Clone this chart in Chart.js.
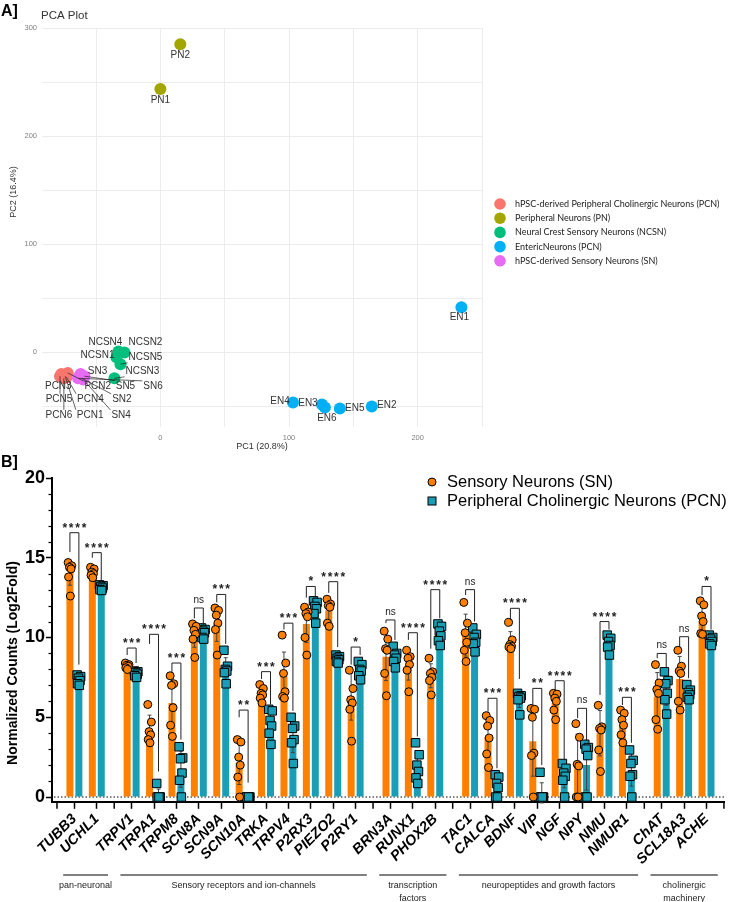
<!DOCTYPE html>
<html>
<head>
<meta charset="utf-8">
<script src="https://cdn.jsdelivr.net/npm/chart.js@4.4.1/dist/chart.umd.min.js"></script>
<style>
  html, body { margin: 0; padding: 0; background: #fff; }
  #wrap { position: relative; width: 731px; height: 902px; overflow: hidden; }
  canvas { position: absolute; left: 0; }
  #pca { top: 0; width: 731px; height: 460px; }
  #bars { top: 455px; width: 731px; height: 447px; }
</style>
</head>
<body>
<div id="wrap">
  <canvas id="pca" width="731" height="460"></canvas>
  <canvas id="bars" width="731" height="447"></canvas>
</div>
<script>
const SANS = '"Liberation Sans", Arial, sans-serif';

// ---------- Panel A : PCA ----------
const pcaGroups = [
  'hPSC-derived Peripheral Cholinergic Neurons (PCN)',
  'Peripheral Neurons (PN)',
  'Neural Crest Sensory Neurons (NCSN)',
  'EntericNeurons (PCN)',
  'hPSC-derived Sensory Neurons (SN)'
];
const pcaColors = ['#F8766D', '#A3A500', '#00BF7D', '#00B0F6', '#E76BF3'];

const pcnNames = ['PCN1', 'PCN2', 'PCN3', 'PCN4', 'PCN5', 'PCN6'];
const pcnPC1 = [-74, -72, -77, -73, -78, -75];
const pcnPC2 = [-22, -19, -20, -23, -22, -24];

const pnNames = ['PN1', 'PN2'];
const pnPC1 = [0, 15.5];
const pnPC2 = [243.5, 285];

const ncsnNames = ['NCSN1', 'NCSN2', 'NCSN3', 'NCSN4', 'NCSN5'];
const ncsnPC1 = [-34.1, -27.9, -35.7, -32.6, -31];
const ncsnPC2 = [-4.6, 0, -24, 0.9, -11];

const enNames = ['EN1', 'EN2', 'EN3', 'EN4', 'EN5', 'EN6'];
const enPC1 = [234, 164.3, 125.6, 103.1, 139.5, 127.9];
const enPC2 = [41.7, -50, -48.1, -46.3, -51.9, -50.9];

const snNames = ['SN1', 'SN2', 'SN3', 'SN4', 'SN5', 'SN6'];
const snPC1 = [-63, -61, -62, -60, -59, -64];
const snPC2 = [-22, -24, -20, -25, -22, -24];

const pcaSets = [
  { names: pcnNames, x: pcnPC1, y: pcnPC2 },
  { names: pnNames, x: pnPC1, y: pnPC2 },
  { names: ncsnNames, x: ncsnPC1, y: ncsnPC2 },
  { names: enNames, x: enPC1, y: enPC2 },
  { names: snNames, x: snPC1, y: snPC2 }
];

// where the repelled labels sit, in pixels from their point
const labelNudge = {
  PN1: [0, 11], PN2: [0, 11], EN1: [-2, 10], EN2: [15, -1], EN3: [-14, -1],
  EN4: [-13, -1], EN5: [15, 0], EN6: [2, 11],
  NCSN4: [-13, -9], NCSN2: [21, -10], NCSN1: [-19, -2], NCSN5: [25, -7], NCSN3: [28, -7],
  SN3: [17, -3], PCN2: [30, 13.5], SN5: [41, 10], SN6: [75, 8], PCN3: [-3, 12],
  PCN5: [-1, 23], PCN4: [24, 22], SN2: [40, 21], PCN6: [-5, 37], PCN1: [25, 39], SN4: [38, 36]
};

const pcaDecor = {
  id: 'pcaDecor',
  afterDatasetsDraw(chart) {
    const ctx = chart.ctx, xs = chart.scales.x, ys = chart.scales.y;
    ctx.save();
    ctx.font = '10px ' + SANS;
    ctx.textAlign = 'center';
    ctx.textBaseline = 'middle';
    const items = [];
    pcaSets.forEach(set => set.names.forEach((nm, i) => {
      const off = labelNudge[nm];
      if (!off) return;
      const px = xs.getPixelForValue(set.x[i]), py = ys.getPixelForValue(set.y[i]);
      items.push({ nm, px, py, lx: px + off[0], ly: py + off[1] });
    }));
    ctx.strokeStyle = '#222';
    ctx.lineWidth = 0.7;
    items.forEach(it => {
      const w = ctx.measureText(it.nm).width / 2 + 1, h = 5.5;
      const bx = Math.max(it.lx - w, Math.min(it.px, it.lx + w));
      const by = Math.max(it.ly - h, Math.min(it.py, it.ly + h));
      if (Math.hypot(bx - it.px, by - it.py) > 7) {
        ctx.beginPath();
        ctx.moveTo(it.px, it.py);
        ctx.lineTo(bx, by);
        ctx.stroke();
      }
    });
    ctx.fillStyle = '#333';
    items.forEach(it => ctx.fillText(it.nm, it.lx, it.ly));
    ctx.restore();
  },
  afterDraw(chart) {
    const ctx = chart.ctx, area = chart.chartArea;
    ctx.save();
    ctx.fillStyle = '#000';
    ctx.textBaseline = 'middle';
    ctx.font = 'bold 16px ' + SANS;
    ctx.fillText('A]', 1, 12);
    ctx.fillStyle = '#333';
    ctx.font = '11.5px ' + SANS;
    ctx.fillText('PCA Plot', 41, 16);
    ctx.font = '9px ' + SANS;
    ctx.textAlign = 'center';
    ctx.fillText('PC1 (20.8%)', (area.left + area.right) / 2, 447);
    ctx.save();
    ctx.translate(14, 192);
    ctx.rotate(-Math.PI / 2);
    ctx.fillText('PC2 (16.4%)', 0, 0);
    ctx.restore();
    // legend
    ctx.textAlign = 'left';
    ctx.font = '9px Lato, "Open Sans", sans-serif';
    pcaGroups.forEach((g, k) => {
      const y = 204 + k * 14.2;
      ctx.fillStyle = pcaColors[k];
      ctx.beginPath();
      ctx.arc(500, y, 5.8, 0, Math.PI * 2);
      ctx.fill();
      ctx.fillStyle = '#222';
      ctx.fillText(g, 515, y);
    });
    ctx.restore();
  }
};

new Chart(document.getElementById('pca'), {
  type: 'scatter',
  data: {
    datasets: pcaSets.map((s, k) => ({
      label: pcaGroups[k],
      data: s.x.map((v, i) => ({ x: v, y: s.y[i] })),
      backgroundColor: pcaColors[k],
      pointRadius: 6,
      pointHoverRadius: 6,
      pointBorderWidth: 0,
      order: 4 - k
    }))
  },
  options: {
    responsive: false,
    animation: false,
    layout: { padding: { left: 0, top: 28, right: 249, bottom: 0 } },
    plugins: { legend: { display: false }, tooltip: { enabled: false } },
    scales: {
      x: {
        type: 'linear', min: -92, max: 250,
        ticks: {
          stepSize: 50, includeBounds: false, maxRotation: 0, padding: 6,
          color: '#7f7f7f', font: { family: SANS, size: 7.5 },
          callback: v => (v % 100 === 0 ? v : '')
        },
        grid: { color: '#ececec', drawTicks: false },
        border: { display: false },
        afterFit: s => { s.height = 33; }
      },
      y: {
        type: 'linear', min: -69, max: 300,
        ticks: {
          stepSize: 50, includeBounds: false, padding: 5,
          color: '#7f7f7f', font: { family: SANS, size: 7.5 },
          callback: v => (v % 100 === 0 ? v : '')
        },
        grid: { color: '#ececec', drawTicks: false },
        border: { display: false },
        afterFit: s => { s.width = 42; }
      }
    }
  },
  plugins: [pcaDecor]
});

// ---------- Panel B : normalized counts ----------
const genes = ['TUBB3', 'UCHL1', 'TRPV1', 'TRPA1', 'TRPM8', 'SCN8A', 'SCN9A', 'SCN10A', 'TRKA',
  'TRPV4', 'P2RX3', 'PIEZO2', 'P2RY1', 'BRN3A', 'RUNX1', 'PHOX2B', 'TAC1', 'CALCA', 'BDNF',
  'VIP', 'NGF', 'NPY', 'NMU', 'NMUR1', 'ChAT', 'SCL18A3', 'ACHE'];
const geneGroup = [0, 0, 1, 1, 1, 1, 1, 1, 1, 1, 1, 1, 1, 2, 2, 2, 3, 3, 3, 3, 3, 3, 3, 3, 4, 4, 4];
const groupLabels = [['pan-neuronal'], ['Sensory receptors and ion-channels'],
  ['transcription', 'factors'], ['neuropeptides and growth factors'], ['cholinergic', 'machinery']];

const seriesNames = ['Sensory Neurons (SN)', 'Peripheral Cholinergic Neurons (PCN)'];
const snMean = [14.05, 14.05, 8.2, 4.25, 5.9, 10.15, 10.85, 2.15, 6.45, 7.55, 10.85, 11.7, 6.3,
  8.8, 8.25, 7.6, 10.15, 3.75, 9.75, 3.5, 5.9, 2.05, 4.0, 4.55, 6.3, 7.4, 11.0];
const pcnMean = [7.35, 13.1, 7.7, 0.15, 1.75, 10.3, 8.05, 0, 4.6, 3.8, 11.8, 8.65, 7.95,
  8.8, 1.95, 10.2, 9.85, 0.7, 6.1, 0.26, 1.3, 2.0, 9.6, 1.7, 6.7, 6.5, 9.8];

const snReps = [
  [14.7, 14.5, 14.4, 14.3, 13.8, 12.6], [14.4, 14.3, 14.1, 14.0, 13.9, 13.75],
  [8.4, 8.3, 8.25, 8.2, 8.1, 8.0], [5.8, 4.7, 4.1, 3.9, 3.6, 3.4],
  [7.6, 7.1, 7.0, 5.6, 4.5, 3.8], [10.85, 10.7, 10.45, 10.2, 9.9, 8.75],
  [11.85, 11.7, 11.4, 10.9, 10.5, 8.9], [3.6, 3.45, 2.5, 2.0, 1.25, 0],
  [7.05, 6.8, 6.5, 6.4, 6.2, 5.9], [10.15, 8.4, 7.75, 6.6, 6.3, 6.2],
  [11.9, 11.6, 11.5, 11.3, 10.0, 8.9], [12.4, 12.1, 12.0, 11.9, 10.9, 10.7],
  [7.95, 6.8, 6.1, 5.9, 5.5, 3.5], [10.4, 9.9, 9.3, 9.2, 7.75, 6.35],
  [9.2, 8.8, 8.7, 8.3, 7.95, 6.6], [8.7, 7.85, 7.75, 7.5, 7.3, 6.4],
  [12.2, 10.9, 10.3, 9.7, 9.2, 8.5], [5.1, 4.8, 4.45, 3.7, 2.7, 1.85],
  [10.95, 9.85, 9.55, 9.45, 9.4, 9.3], [5.55, 5.5, 5.0, 2.75, 2.6, 0],
  [6.5, 6.45, 6.2, 6.0, 5.45, 4.85], [4.6, 3.75, 2.05, 1.95, 0, 0],
  [5.75, 4.4, 4.3, 4.2, 2.95, 1.6], [5.45, 5.25, 4.85, 4.5, 3.9, 3.4],
  [8.3, 7.15, 6.75, 6.5, 4.85, 4.25], [9.2, 8.2, 7.9, 7.75, 6.0, 5.45],
  [12.3, 12.05, 11.35, 11.0, 10.25, 10.2]
];
const pcnReps = [
  [7.65, 7.55, 7.45, 7.3, 7.1, 7.0], [13.3, 13.25, 13.2, 13.1, 13.0, 12.95],
  [7.9, 7.85, 7.8, 7.7, 7.6, 7.5], [0.85, 0, 0, 0, 0, 0],
  [3.15, 2.45, 2.4, 1.5, 1.05, 0], [10.6, 10.5, 10.4, 10.3, 10.0, 9.9],
  [9.2, 8.2, 8.0, 7.9, 7.8, 7.1], [0, 0, 0, 0, 0, 0],
  [5.5, 5.4, 4.8, 4.45, 4.0, 3.3], [5.0, 4.45, 4.3, 3.6, 3.4, 2.1],
  [12.3, 12.2, 11.95, 11.8, 11.5, 10.9], [8.9, 8.8, 8.7, 8.6, 8.5, 8.4],
  [8.5, 8.3, 8.0, 7.9, 7.6, 7.35], [9.45, 9.0, 8.9, 8.7, 8.5, 8.1],
  [3.4, 2.65, 2.0, 1.6, 1.2, 0.85], [10.85, 10.7, 10.4, 10.1, 9.8, 9.5],
  [10.6, 10.2, 10.0, 9.7, 9.6, 9.1], [1.4, 1.25, 0.85, 0.6, 0, 0],
  [6.5, 6.35, 6.3, 6.2, 6.1, 5.15], [1.55, 0, 0, 0, 0, 0],
  [2.1, 1.8, 1.5, 1.3, 1.05, 0], [3.3, 3.1, 3.0, 2.6, 0, 0],
  [10.15, 9.95, 9.75, 9.5, 9.4, 8.9], [2.95, 2.3, 2.1, 1.4, 1.3, 0],
  [7.85, 7.3, 7.1, 6.5, 6.1, 5.2], [7.05, 6.7, 6.55, 6.4, 6.25, 6.1],
  [10.15, 10.0, 9.9, 9.75, 9.6, 9.5]
];

// significance: label, bracket top, end of SN leg, end of PCN leg
const sigLabel = ['****', '****', '***', '****', '***', 'ns', '***', '**', '***', '***', '*', '****', '*',
  'ns', '****', '****', 'ns', '***', '****', '**', '****', 'ns', '****', '***', 'ns', 'ns', '*'];
const sigTop = [16.57, 15.32, 9.34, 10.2, 8.4, 11.85, 12.7, 5.45, 7.86, 10.9, 13.2, 13.5, 9.4,
  11.1, 10.3, 13.0, 13.0, 6.19, 11.83, 6.81, 7.29, 5.56, 11.0, 6.25, 9.0, 10.05, 13.2];
const sigLegSN = [15.36, 15.0, 8.9, 9.6, 7.8, 11.2, 12.2, 5.0, 7.4, 10.5, 12.5, 12.8, 8.3,
  10.9, 9.85, 9.3, 12.66, 5.35, 11.1, 5.77, 6.7, 4.95, 6.4, 5.77, 8.7, 9.4, 12.65];
const sigLegPCN = [8.3, 13.5, 8.4, 1.6, 3.6, 10.65, 9.6, 0.9, 5.8, 5.4, 12.5, 9.4, 8.9,
  9.84, 3.8, 11.2, 11.0, 1.8, 7.4, 2.0, 2.3, 3.57, 10.5, 3.4, 8.15, 7.45, 10.5];

const orange = '#FF8000';
const teal = '#1A9EB5';

// x positions: one slot per gene, plus a narrower gap between gene groups
const GAP = 0.555;
const xPos = genes.map((g, i) => i + geneGroup[i] * GAP);
const groupEdges = [];
for (let g = 0; g < groupLabels.length; g++) {
  const idx = genes.map((_, i) => i).filter(i => geneGroup[i] === g);
  groupEdges.push([xPos[idx[0]], xPos[idx[idx.length - 1]]]);
}
const boundaryTicks = [groupEdges[0][0] - (0.5 + GAP / 2)];
for (let g = 0; g < groupEdges.length - 1; g++) boundaryTicks.push((groupEdges[g][1] + groupEdges[g + 1][0]) / 2);
boundaryTicks.push(groupEdges[groupEdges.length - 1][1] + 0.5 + GAP / 2);

const SHIFT = 0.2;  // half the distance between the two bars of a gene
const jitter = [-0.08, 0.08, -0.02, 0.05, -0.06, 0.02];
const repPoints = (reps, side) => reps.flatMap((r, i) =>
  r.map((v, k) => ({ x: xPos[i] + side * SHIFT + jitter[k], y: v })));

const sd = arr => {
  const m = arr.reduce((a, b) => a + b, 0) / arr.length;
  return Math.sqrt(arr.reduce((a, b) => a + (b - m) * (b - m), 0) / (arr.length - 1));
};

const barDecor = {
  id: 'barDecor',
  beforeDatasetsDraw(chart) {
    const ctx = chart.ctx, ys = chart.scales.y, area = chart.chartArea;
    const y0 = ys.getPixelForValue(0);
    ctx.save();
    ctx.strokeStyle = '#000';
    ctx.lineWidth = 1;
    ctx.setLineDash([1.5, 2]);
    ctx.beginPath();
    ctx.moveTo(area.left + 2, y0);
    ctx.lineTo(area.right, y0);
    ctx.stroke();
    ctx.restore();
  },
  afterDatasetDraw(chart, args) {
    if (args.index > 1) return;
    const ctx = chart.ctx, ys = chart.scales.y;
    const means = args.index === 0 ? snMean : pcnMean;
    const reps = args.index === 0 ? snReps : pcnReps;
    ctx.save();
    ctx.strokeStyle = '#444';
    ctx.lineWidth = 1;
    args.meta.data.forEach((bar, i) => {
      const s = sd(reps[i]);
      if (s === 0) return;
      const yt = ys.getPixelForValue(means[i] + s), yb = ys.getPixelForValue(means[i] - s);
      ctx.beginPath();
      ctx.moveTo(bar.x, yt); ctx.lineTo(bar.x, yb);
      ctx.moveTo(bar.x - 2, yt); ctx.lineTo(bar.x + 2, yt);
      ctx.moveTo(bar.x - 2, yb); ctx.lineTo(bar.x + 2, yb);
      ctx.stroke();
    });
    ctx.restore();
  },
  afterDraw(chart) {
    const ctx = chart.ctx, xs = chart.scales.x, ys = chart.scales.y, area = chart.chartArea;
    ctx.save();
    ctx.strokeStyle = '#000';
    // minor y ticks
    ctx.lineWidth = 1.2;
    for (let v = 1; v < 20; v++) {
      if (v % 5 === 0) continue;
      const y = Math.round(ys.getPixelForValue(v)) + 0.5;
      ctx.beginPath(); ctx.moveTo(area.left - 3.5, y); ctx.lineTo(area.left, y); ctx.stroke();
    }
    // ticks at group boundaries
    ctx.lineWidth = 1.5;
    boundaryTicks.forEach(v => {
      const x = xs.getPixelForValue(v);
      ctx.beginPath(); ctx.moveTo(x, area.bottom); ctx.lineTo(x, area.bottom + 7); ctx.stroke();
    });
    // brackets + stars
    ctx.lineWidth = 1;
    ctx.strokeStyle = '#222';
    genes.forEach((g, i) => {
      const xl = xs.getPixelForValue(xPos[i] - SHIFT), xr = xs.getPixelForValue(xPos[i] + SHIFT);
      const yt = ys.getPixelForValue(sigTop[i]);
      ctx.beginPath();
      ctx.moveTo(xl, ys.getPixelForValue(sigLegSN[i]));
      ctx.lineTo(xl, yt);
      ctx.lineTo(xr, yt);
      ctx.lineTo(xr, ys.getPixelForValue(sigLegPCN[i]));
      ctx.stroke();
      const cx = (xl + xr) / 2;
      ctx.fillStyle = '#222';
      ctx.textAlign = 'center';
      ctx.textBaseline = 'alphabetic';
      if (sigLabel[i] === 'ns') {
        ctx.font = '10px ' + SANS;
        ctx.fillText('ns', cx, yt - 5);
      } else {
        ctx.font = 'bold 12px ' + SANS;
        const n = sigLabel[i].length, step = 6.4;
        for (let k = 0; k < n; k++) ctx.fillText('*', cx + (k - (n - 1) / 2) * step, yt - 1);
      }
    });
    // gene labels
    ctx.fillStyle = '#000';
    ctx.font = 'italic bold 14.5px ' + SANS;
    ctx.textAlign = 'right';
    ctx.textBaseline = 'middle';
    genes.forEach((g, i) => {
      const x = xs.getPixelForValue(xPos[i]);
      ctx.save();
      ctx.translate(x, area.bottom + 15);
      ctx.rotate(-Math.PI / 4);
      ctx.fillText(g, 0, 0);
      ctx.restore();
    });
    // group lines and names
    ctx.strokeStyle = '#000';
    ctx.lineWidth = 1;
    ctx.fillStyle = '#222';
    ctx.font = '9px ' + SANS;
    ctx.textAlign = 'center';
    groupEdges.forEach((e, g) => {
      const x1 = xs.getPixelForValue(e[0] - 0.5), x2 = xs.getPixelForValue(e[1] + 0.5);
      ctx.beginPath(); ctx.moveTo(x1, 420); ctx.lineTo(x2, 420); ctx.stroke();
      groupLabels[g].forEach((t, k) => ctx.fillText(t, (x1 + x2) / 2, 431 + k * 13));
    });
    // legend
    ctx.textAlign = 'left';
    ctx.font = '16.5px ' + SANS;
    ctx.fillStyle = '#000';
    ctx.lineWidth = 1;
    ctx.beginPath(); ctx.arc(432, 27, 4, 0, Math.PI * 2);
    ctx.fillStyle = orange; ctx.fill(); ctx.stroke();
    ctx.fillStyle = teal;
    ctx.fillRect(428, 42, 8, 8); ctx.strokeRect(428, 42, 8, 8);
    ctx.fillStyle = '#000';
    ctx.fillText(seriesNames[0], 447, 27);
    ctx.fillText(seriesNames[1], 447, 46);
    // titles
    ctx.font = 'bold 16px ' + SANS;
    ctx.fillText('B]', 1, 8);
    ctx.save();
    ctx.translate(13, 208);
    ctx.rotate(-Math.PI / 2);
    ctx.textAlign = 'center';
    ctx.font = 'bold 14px ' + SANS;
    ctx.fillText('Normalized Counts (Log2Fold)', 0, 0);
    ctx.restore();
    ctx.restore();
  }
};

new Chart(document.getElementById('bars'), {
  type: 'bar',
  data: {
    datasets: [
      {
        type: 'bar', label: seriesNames[0],
        data: genes.map((g, i) => ({ x: xPos[i], y: snMean[i] })),
        backgroundColor: orange, categoryPercentage: 0.8, barPercentage: 0.78, order: 2
      },
      {
        type: 'bar', label: seriesNames[1],
        data: genes.map((g, i) => ({ x: xPos[i], y: pcnMean[i] })),
        backgroundColor: teal, categoryPercentage: 0.8, barPercentage: 0.78, order: 2
      },
      {
        type: 'scatter', label: seriesNames[0] + ' replicates',
        data: repPoints(snReps, -1),
        pointStyle: 'circle', pointRadius: 4, pointHoverRadius: 4,
        backgroundColor: orange, borderColor: '#000', pointBorderWidth: 1, order: 1
      },
      {
        type: 'scatter', label: seriesNames[1] + ' replicates',
        data: repPoints(pcnReps, 1),
        pointStyle: 'rect', pointRadius: 6, pointHoverRadius: 6,
        backgroundColor: teal, borderColor: '#000', pointBorderWidth: 1, order: 1
      }
    ]
  },
  options: {
    responsive: false,
    animation: false,
    layout: { padding: { left: 0, top: 23, right: 2.5, bottom: 0 } },
    plugins: { legend: { display: false }, tooltip: { enabled: false } },
    scales: {
      x: {
        type: 'linear', min: -1, max: 29, offset: false,
        afterBuildTicks: s => { s.ticks = xPos.map(v => ({ value: v })); },
        ticks: { display: false },
        grid: { offset: false, drawOnChartArea: false, drawTicks: true, tickLength: 7,
          tickColor: '#000', tickWidth: 1.5 },
        border: { display: true, color: '#000', width: 2 },
        afterFit: s => { s.height = 100.2; }
      },
      y: {
        type: 'linear', min: -0.3, max: 20,
        ticks: { stepSize: 5, includeBounds: false, padding: 1, color: '#000',
          font: { family: SANS, size: 18, weight: 'bold' } },
        grid: { drawOnChartArea: false, drawTicks: true, tickLength: 6,
          tickColor: '#000', tickWidth: 1.5 },
        border: { display: true, color: '#000', width: 2 },
        afterFit: s => { s.width = 52; }
      }
    }
  },
  plugins: [barDecor]
});
</script>
</body>
</html>
